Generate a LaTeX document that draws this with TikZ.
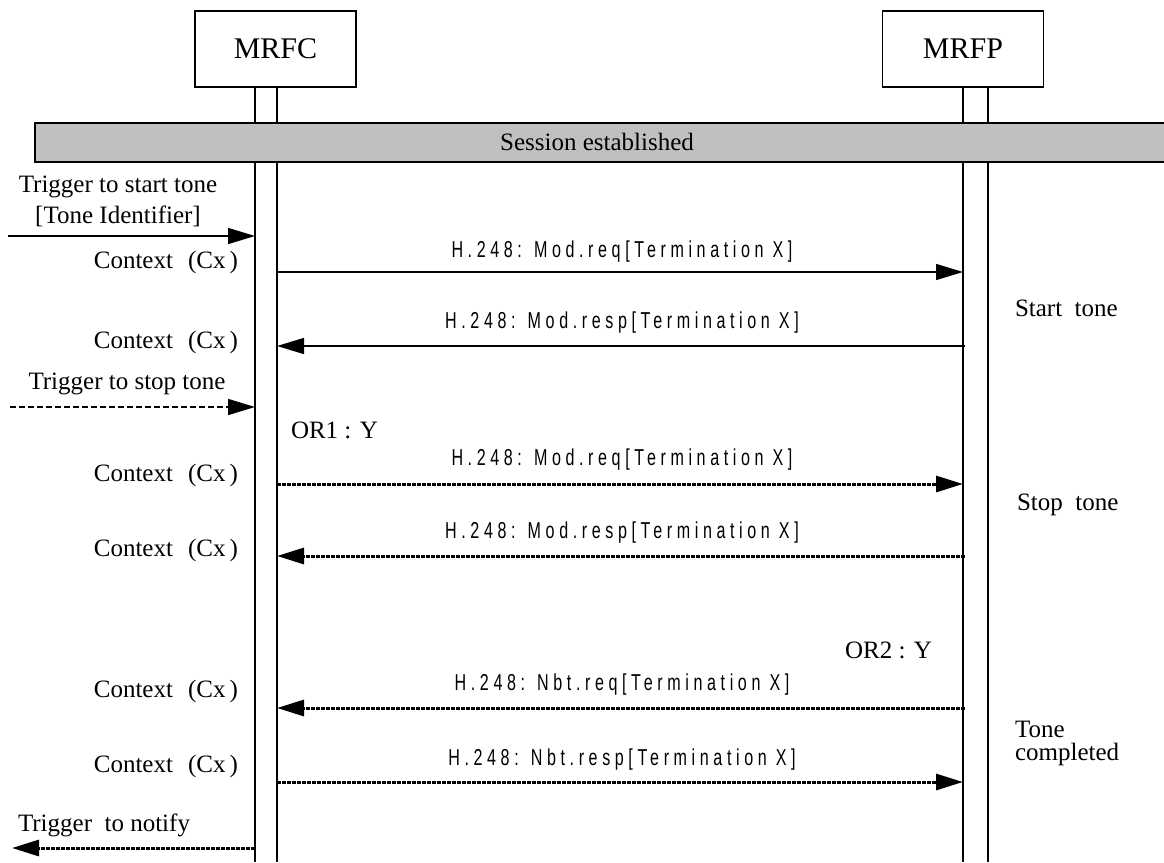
\documentclass[tikz,border=0pt]{standalone}
\usepackage{fontspec}
\setmainfont{Liberation Serif}
\newfontfamily\lblfont[FakeStretch=0.7,LetterSpace=20]{Liberation Sans}
\usetikzlibrary{arrows.meta}
\definecolor{barfill}{RGB}{192,192,192}
\begin{document}
\begin{tikzpicture}[x=1pt,y=-1pt,
  every node/.style={inner sep=0pt, outer sep=0pt},
  txt/.style={font=\fontsize{25}{31}\selectfont},
  lbl/.style={font=\lblfont\fontsize{23}{26}\selectfont},
  ent/.style={draw, line width=1.6pt, minimum width=161pt, minimum height=76pt, font=\fontsize{30}{34}\selectfont},
  life/.style={line width=1.6pt},
  msg/.style={line width=1.5pt, -{Triangle[length=27pt,width=16pt]}},
  dotmsg/.style={msg, line width=3pt, dash pattern=on 4pt off 1pt},
  dashmsg/.style={msg, dash pattern=on 6pt off 3pt},
]
\useasboundingbox (0,0) rectangle (1164,862);

% entities
\node[ent] (mrfc) at (275.5,49) {MRFC};
\node[ent] (mrfp) at (963,49) {MRFP};

% lifelines
\coordinate (fa) at (255,87);  \coordinate (fa2) at (255,862);
\coordinate (fb) at (277,87);  \coordinate (fb2) at (277,862);
\coordinate (pa) at (963,87);  \coordinate (pa2) at (963,862);
\coordinate (pb) at (988,87);  \coordinate (pb2) at (988,862);
\draw[life] (fa) -- (fa2);
\draw[life] (fb) -- (fb2);
\draw[life] (pa) -- (pa2);
\draw[life] (pb) -- (pb2);

% session bar
\node[draw, fill=barfill, line width=2pt, minimum width=1135pt, minimum height=39pt] (bar) at (602.5,142.5) {};
\node[font=\fontsize{25}{28}\selectfont] (sess) at (597,142) {Session established};

% trigger to start tone
\node[txt, align=center] (trig1) at (118,201) {Trigger to start tone\\{[Tone Identifier]}};
\coordinate (t1s) at (8,236); \coordinate (t1e) at (255,236);
\draw[msg] (t1s) -- (t1e);

% context labels
\node[txt, anchor=east] (cx1) at (238,262) {Context\hspace{0.6em}(Cx\,)};
\node[txt, anchor=east] (cx2) at (238,342) {Context\hspace{0.6em}(Cx\,)};
\node[txt, anchor=east] (cx3) at (238,475) {Context\hspace{0.6em}(Cx\,)};
\node[txt, anchor=east] (cx4) at (238,550) {Context\hspace{0.6em}(Cx\,)};
\node[txt, anchor=east] (cx5) at (238,691) {Context\hspace{0.6em}(Cx\,)};
\node[txt, anchor=east] (cx6) at (238,766) {Context\hspace{0.6em}(Cx\,)};

% start tone messages
\coordinate (m1s) at (277,272); \coordinate (m1e) at (963,272);
\draw[msg] (m1s) -- (m1e);
\node[lbl] (l1) at (622,252) {H.248: Mod.req[Termination X]};
\coordinate (m2s) at (965,346); \coordinate (m2e) at (277,346);
\draw[msg] (m2s) -- (m2e);
\node[lbl] (l2) at (622,323) {H.248: Mod.resp[Termination X]};
\node[txt, anchor=west] (start) at (1015,308) {Start\enspace tone};

% trigger to stop tone
\node[txt] (trig2) at (127,384) {Trigger to stop tone};
\coordinate (t2s) at (10,407); \coordinate (t2e) at (255,407);
\draw[dashmsg] (t2s) -- (t2e);

\node[txt, anchor=west] (or1) at (291,430) {OR1 : Y};
\coordinate (m3s) at (277,484); \coordinate (m3e) at (963,484);
\draw[dotmsg] (m3s) -- (m3e);
\node[lbl] (l3) at (622,460) {H.248: Mod.req[Termination X]};
\coordinate (m4s) at (965,556); \coordinate (m4e) at (277,556);
\draw[dotmsg] (m4s) -- (m4e);
\node[lbl] (l4) at (622,533) {H.248: Mod.resp[Termination X]};
\node[txt, anchor=west] (stop) at (1017,505) {Stop\enspace tone};

% tone completed
\node[txt, anchor=east] (or2) at (932,650) {OR2 : Y};
\coordinate (m5s) at (965,708); \coordinate (m5e) at (277,708);
\draw[dotmsg] (m5s) -- (m5e);
\node[lbl] (l5) at (622,685) {H.248: Nbt.req[Termination X]};
\coordinate (m6s) at (277,782); \coordinate (m6e) at (963,782);
\draw[dotmsg] (m6s) -- (m6e);
\node[lbl] (l6) at (622,760) {H.248: Nbt.resp[Termination X]};
\node[txt, anchor=west, align=left, font=\fontsize{25}{23}\selectfont] (done) at (1015,743) {Tone\\completed};

% trigger to notify
\node[txt] (trig3) at (104,825) {Trigger\enspace to notify};
\coordinate (t3s) at (255,848); \coordinate (t3e) at (12,848);
\draw[dotmsg] (t3s) -- (t3e);
\end{tikzpicture}
\end{document}
